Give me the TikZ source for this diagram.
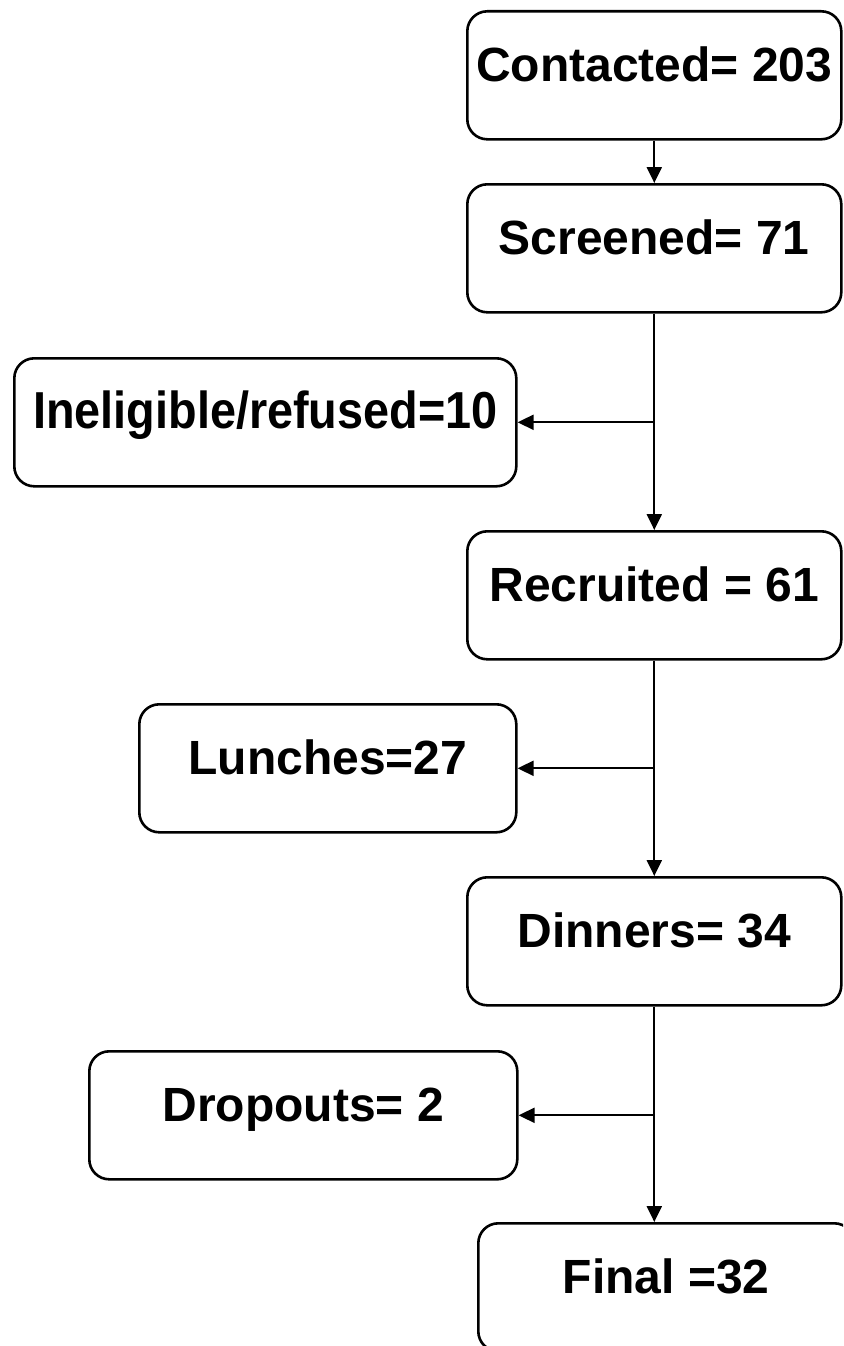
\documentclass[tikz,border=0pt]{standalone}
\usepackage{fontspec}
\usepackage{graphicx}
\setmainfont{Liberation Sans}
\usetikzlibrary{arrows.meta}
\tikzset{
  flowbox/.style={draw=black, line width=2.6pt, rounded corners=20pt, inner sep=0pt,
    text height=70pt, text depth=58pt, anchor=north west,
    font=\fontsize{48}{56}\selectfont\bfseries, align=center},
  conn/.style={line width=2.2pt, -{Triangle[length=16pt,width=15pt]}}
}
\begin{document}
\begin{tikzpicture}[x=1pt,y=-1pt]
\path[use as bounding box, clip] (0,0) rectangle (843,1346);
\fill[white] (0,0) rectangle (843,1346);
\node[flowbox, minimum width=374pt] (contacted) at (466,10) {Contacted= 203};
\node[flowbox, minimum width=374pt] (screened) at (466,183) {Screened= 71};
\node[flowbox, minimum width=502pt] (inelig) at (13,357) {\scalebox{0.9}[1]{\fontsize{52}{60}\selectfont Ineligible/refused=10}};
\node[flowbox, minimum width=374pt] (recruited) at (466,530) {Recruited = 61};
\node[flowbox, minimum width=377pt] (lunches) at (138,703) {Lunches=27};
\node[flowbox, minimum width=374pt] (dinners) at (466,876) {Dinners= 34};
\node[flowbox, minimum width=428pt] (dropouts) at (88,1050) {Dropouts= 2};
\node[flowbox, minimum width=376pt] (final) at (477,1222) {Final =32};

\coordinate (j1) at (653,0 |- inelig.east);
\coordinate (j2) at (653,0 |- lunches.east);
\coordinate (j3) at (653,0 |- dropouts.east);

\draw[conn] (contacted.south) -- (contacted.south |- screened.north);
\draw[conn] (screened.south) -- (screened.south |- recruited.north);
\draw[conn] (j1) -- (inelig.east);
\draw[conn] (recruited.south) -- (recruited.south |- dinners.north);
\draw[conn] (j2) -- (lunches.east);
\draw[conn] (dinners.south) -- (dinners.south |- final.north);
\draw[conn] (j3) -- (dropouts.east);
\end{tikzpicture}
\end{document}
